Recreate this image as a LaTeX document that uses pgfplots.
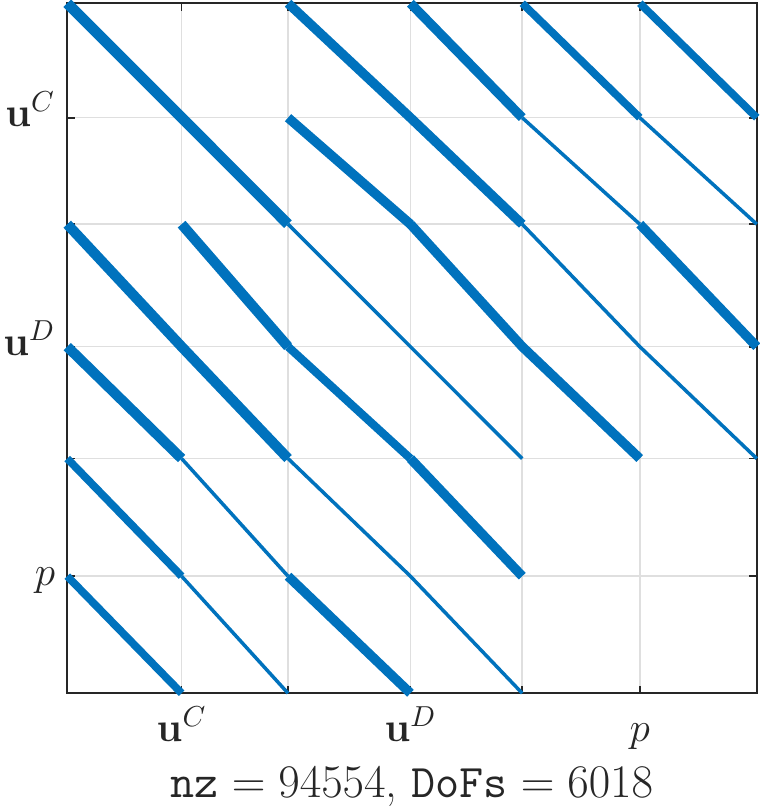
\RequirePackage{fix-cm}
\documentclass[border=0pt]{standalone}
\usepackage{pgfplots}
\pgfplotsset{compat=1.18}
\definecolor{spyblue}{RGB}{0,114,189}
\definecolor{axgray}{RGB}{38,38,38}
\definecolor{gridgray}{RGB}{223,223,223}

\begin{document}
\begin{tikzpicture}
\begin{axis}[
    at={(0,0)}, anchor=south west,
    scale only axis, width=275.8pt, height=276pt,
    xmin=0, xmax=6018, ymin=0, ymax=6018,
    y dir=reverse,
    clip=false,
    unbounded coords=jump,
    axis line style={axgray, line width=0.7pt},
    tick style={axgray, line width=0.7pt},
    major tick length=3pt,
    xtick={998,1927,2995,3971,4997},
    ytick={998,1927,2995,3971,4997},
    xticklabels={$\mathbf{u}^C$,,$\mathbf{u}^D$,,$p$},
    yticklabels={$\mathbf{u}^C$,,$\mathbf{u}^D$,,$p$},
    grid=major,
    grid style={gridgray, line width=0.6pt},
    ticklabel style={font=\fontsize{16.5}{20}\selectfont, text=axgray},
    xticklabel style={anchor=base, yshift=-19.2pt},
    yticklabel style={anchor=base east, yshift=-3.6pt, xshift=-1.3pt},
    xlabel={$\texttt{nz} = 94554$, $\texttt{DoFs} = 6018$},
    xlabel style={at={(axis description cs:0.5,0)}, anchor=base,
        yshift=-41.6pt, font=\fontsize{18.7}{22}\selectfont, text=axgray},
]
% u^C x u^C diagonal
\addplot[spyblue, line width=4.3pt] coordinates {(0,0) (998,998) (1927,1927)};
% u^D rows x u^C cols
\addplot[spyblue, line width=4.1pt] coordinates {
    (0,1927) (998,2995) (nan,nan)
    (0,2995) (998,3971) (nan,nan)
    (998,1927) (1927,2995) (nan,nan)
    (998,2995) (1927,3971)
};
% thick coupling blocks
\addplot[spyblue, line width=3.8pt] coordinates {
    (1927,0) (2995,998) (nan,nan)
    (2995,0) (3971,998) (nan,nan)
    (1927,998) (2995,1927) (nan,nan)
    (2995,998) (3971,1927) (nan,nan)
    (2995,1927) (3971,2995) (nan,nan)
    (4997,1927) (6018,2995) (nan,nan)
    (3971,2995) (4997,3971) (nan,nan)
    (2995,3971) (3971,4997) (nan,nan)
    (1927,4997) (2995,6018)
};
\addplot[spyblue, line width=3.3pt] coordinates {(1927,2995) (2995,3971)};
% u^C x p
\addplot[spyblue, line width=3.1pt] coordinates {
    (3971,0) (4997,998) (nan,nan)
    (4997,0) (6018,998) (nan,nan)
    (0,3971) (998,4997) (nan,nan)
    (0,4997) (998,6018)
};
% thin bands
\addplot[spyblue, line width=1.4pt] coordinates {
    (1927,1927) (2995,2995) (3971,3971) (nan,nan)
    (3971,998) (4997,1927) (nan,nan)
    (4997,998) (6018,1927) (nan,nan)
    (998,3971) (1927,4997) (nan,nan)
    (998,4997) (1927,6018) (nan,nan)
    (3971,1927) (4997,2995) (6018,3971) (nan,nan)
    (1927,3971) (2995,4997) (3971,6018)
};
\end{axis}
\pgfresetboundingbox
\path (-26.9pt,-45.5pt) rectangle (277.1pt,277.3pt);
\end{tikzpicture}
\end{document}
